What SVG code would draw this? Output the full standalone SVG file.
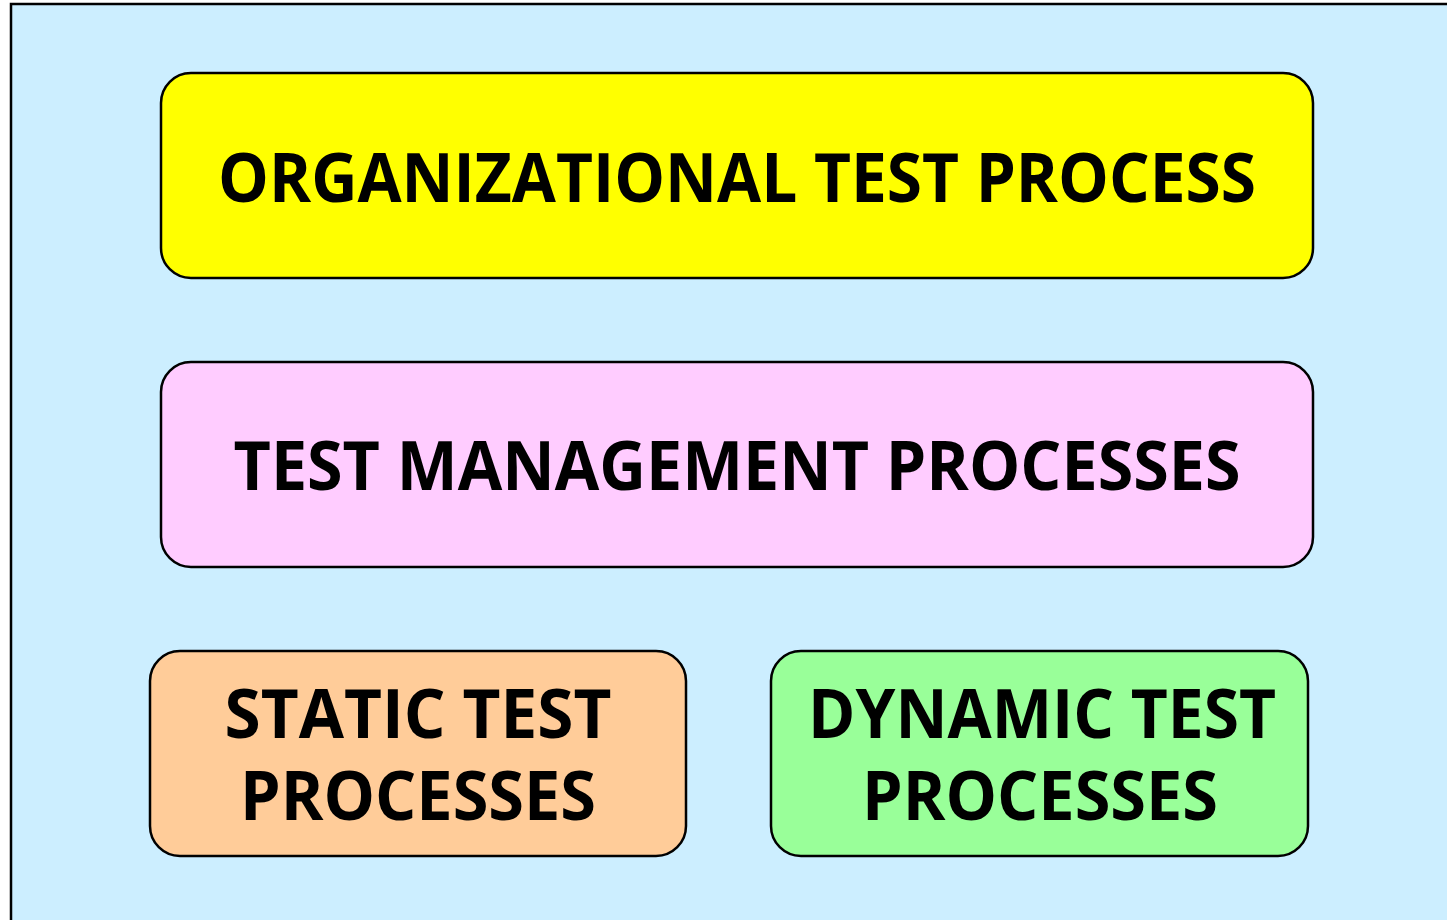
<svg xmlns="http://www.w3.org/2000/svg" width="1447" height="920" viewBox="0 0 1447 920">
  <style>
    .box { stroke: #000; stroke-width: 2.5; }
    .label { font-family: "Open Sans", "Liberation Sans", sans-serif; font-weight: bold; font-size: 68px; fill: #000; text-anchor: middle; }
  </style>
  <rect x="11" y="4" width="1460" height="940" fill="#cceeff" stroke="#000" stroke-width="2.5"/>
  <g id="organizational">
    <rect class="box" x="161" y="73" width="1152" height="205" rx="30" fill="#ffff00"/>
    <text class="label" x="737" y="202" textLength="1038" lengthAdjust="spacingAndGlyphs">ORGANIZATIONAL TEST PROCESS</text>
  </g>
  <g id="management">
    <rect class="box" x="161" y="362" width="1152" height="205" rx="30" fill="#ffccff"/>
    <text class="label" x="737" y="490" textLength="1007" lengthAdjust="spacingAndGlyphs">TEST MANAGEMENT PROCESSES</text>
  </g>
  <g id="static">
    <rect class="box" x="150" y="651" width="536" height="205" rx="30" fill="#ffcc99"/>
    <text class="label" x="418" y="738" textLength="387" lengthAdjust="spacingAndGlyphs">STATIC TEST</text>
    <text class="label" x="418" y="820" textLength="356" lengthAdjust="spacingAndGlyphs">PROCESSES</text>
  </g>
  <g id="dynamic">
    <rect class="box" x="771" y="651" width="537" height="205" rx="30" fill="#99ff99"/>
    <text class="label" x="1042" y="738" textLength="468" lengthAdjust="spacingAndGlyphs">DYNAMIC TEST</text>
    <text class="label" x="1040" y="820" textLength="356" lengthAdjust="spacingAndGlyphs">PROCESSES</text>
  </g>
  <g id="connectors"/>
</svg>
